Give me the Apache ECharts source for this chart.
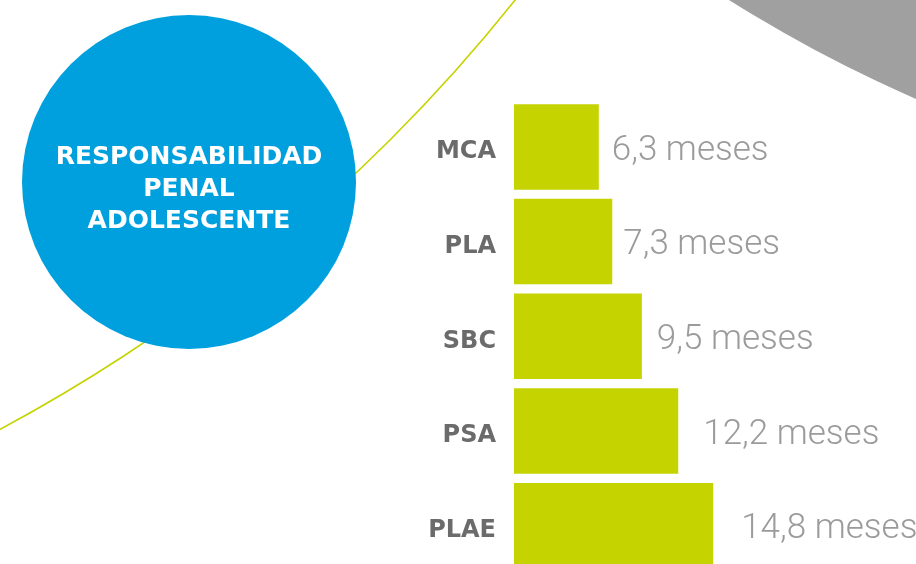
<!DOCTYPE html>
<html>
<head>
<meta charset="utf-8">
<script src="https://cdn.jsdelivr.net/npm/echarts@6/dist/echarts.min.js"></script>
<style>
  html, body { margin: 0; padding: 0; background: #fff; }
  #chart { width: 916px; height: 564px; }
</style>
</head>
<body>
<div id="chart"></div>
<script>
// categorias y meses (de arriba a abajo)
const categories = ['MCA', 'PLA', 'SBC', 'PSA', 'PLAE']
const months = [6.3, 7.3, 9.5, 12.2, 14.8]
const unit = 'meses'
const titleLines = ['RESPONSABILIDAD', 'PENAL', 'ADOLESCENTE']

// separacion de cada etiqueta respecto a la barra
const labelGap = [13, 11, 15, 25, 28]

const chart = echarts.init(document.getElementById('chart'), null, { renderer: 'canvas' })

chart.setOption({
  animation: false,
  backgroundColor: '#ffffff',
  graphic: [
    {
      // circulo gris arriba a la derecha
      type: 'circle',
      silent: true,
      z: 1,
      shape: { cx: 1490, cy: -1213, r: 1432 },
      style: { fill: '#a0a0a0' }
    },
    {
      // linea curva verde
      type: 'circle',
      silent: true,
      z: 1,
      shape: { cx: -784, cy: -1035, r: 1661 },
      style: { fill: 'none', stroke: '#c5d300', lineWidth: 1.6 }
    },
    {
      type: 'circle',
      silent: true,
      z: 2,
      shape: { cx: 189, cy: 182, r: 167 },
      style: { fill: '#00a0de' }
    },
    {
      type: 'text',
      silent: true,
      z: 3,
      x: 189,
      y: 189,
      style: {
        text: titleLines.join('\n'),
        fill: '#ffffff',
        font: 'bold 25px "DejaVu Sans"',
        lineHeight: 32,
        align: 'center',
        verticalAlign: 'middle'
      }
    }
  ],
  grid: {
    left: 514,
    top: 99.6,
    width: 269.2,
    bottom: -9,
    containLabel: false,
    outerBoundsMode: 'none'
  },
  xAxis: {
    type: 'value',
    min: 0,
    max: 20,
    show: false
  },
  yAxis: {
    type: 'category',
    inverse: true,
    data: categories,
    axisLine: { show: false },
    axisTick: { show: false },
    splitLine: { show: false },
    axisLabel: {
      margin: 18,
      formatter: v => '{c|' + v + '}',
      rich: {
        c: {
          color: '#6b6b6b',
          fontFamily: 'DejaVu Sans',
          fontWeight: 'bold',
          fontSize: 24,
          padding: [10, 0, 0, 0]
        }
      }
    }
  },
  series: [
    {
      type: 'bar',
      barWidth: 85.5,
      itemStyle: { color: '#c5d300' },
      data: months.map((v, i) => ({
        value: v,
        label: { distance: labelGap[i] }
      })),
      label: {
        show: true,
        position: 'right',
        offset: [0, 4],
        color: '#9b9b9b',
        fontFamily: 'Roboto',
        fontWeight: 300,
        fontSize: 35,
        formatter: p => String(p.value).replace('.', ',') + ' ' + unit
      }
    }
  ]
})
</script>
</body>
</html>
